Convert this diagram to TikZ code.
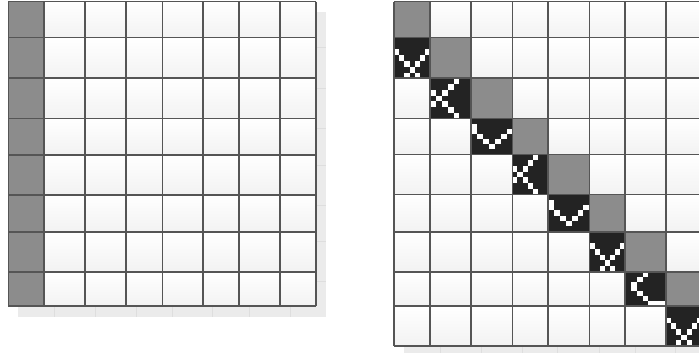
\documentclass[tikz,border=0pt]{standalone}
\definecolor{gridline}{HTML}{555555}
\definecolor{cellgray}{HTML}{8C8C8C}
\definecolor{cellblack}{HTML}{232323}
\definecolor{shadowgray}{HTML}{EBEBEB}
\tikzset{
  gridrule/.style={draw=gridline, line width=1.6pt},
  whitecell/.style={top color=white, bottom color=black!5},
  graycell/.style={fill=cellgray},
  blackcell/.style={fill=cellblack},
  pix/.style={fill=white},
  shadowbox/.style={fill=shadowgray},
  shadowrule/.style={draw=black!13, line width=0.8pt},
}
% white pixel motifs, lattice 7x7 (column/row from top left)
\newcommand{\motifX}{0/2,1/3,2/4,3/5,4/6,6/2,5/3,4/4,2/6}
\newcommand{\motifK}{4/0,3/1,2/2,1/3,0/4,0/2,2/4,3/5,4/6}
\newcommand{\motifV}{0/1,0/2,1/3,2/4,3/5,4/4,5/3,6/2}
\newcommand{\motifL}{3/0,2/1,1/2,1/3,2/4,3/5,4/6,5/6,6/6}
\newcommand{\motifcell}[5]{%
  \fill[blackcell] (#1,#2) rectangle (#3,#4);
  \foreach \i/\j in #5
    \fill[pix] ({#1+(\i+0.02)*(#3-#1)/7},{#2+(\j+0.02)*(#4-#2)/7})
      rectangle +({1.0*(#3-#1)/7},{1.0*(#4-#2)/7});
}
\begin{document}
\begin{tikzpicture}[x=1pt, y=-1pt]
    \useasboundingbox (0,0) rectangle (699,353);
    \clip (0,0) rectangle (699,353);

    % Left matrix: shadow
    \fill[shadowbox] (18.3,11.7) rectangle (325.7,316.5);
    \foreach \x in {54,95,136,172.3,212.7,249,290}
      \draw[shadowrule] (\x,11.7) -- (\x,316.5);
    \foreach \y in {47.7,88.3,128.3,165,205,241.7,281.7}
      \draw[shadowrule] (18.3,\y) -- (325.7,\y);

    % Left matrix: cells, first column gray
    \foreach \xa/\xb in {8.3/44,44/85,85/126,126/162.3,162.3/202.7,202.7/239,239/280,280/315.7}
      \foreach \ya/\yb in {1.7/37.7,37.7/78.3,78.3/118.3,118.3/155,155/195,195/231.7,231.7/271.7,271.7/306}
        \fill[whitecell] (\xa,\ya) rectangle (\xb,\yb);
    \fill[graycell] (8.3,1.7) rectangle (44,306);
    \foreach \x in {8.3,44,85,126,162.3,202.7,239,280,315.7}
      \draw[gridrule] (\x,1.7) -- (\x,306);
    \foreach \y in {1.7,37.7,78.3,118.3,155,195,231.7,271.7,306}
      \draw[gridrule] (8.3,\y) -- (315.7,\y);

    % Right matrix: shadow
    \fill[shadowbox] (404,11.7) rectangle (712,356);
    \foreach \x in {440,481,522.3,557.7,599.3,635,675.7}
      \draw[shadowrule] (\x,11.7) -- (\x,356);

    % Right matrix: cells, gray diagonal
    \foreach \xa/\xb [count=\c] in {394/430,430/471,471/512.3,512.3/547.7,547.7/589.3,589.3/625,625/665.7,665.7/702,702/738}
      \foreach \ya/\yb [count=\r] in {1.7/37.7,37.7/78.3,78.3/118.3,118.3/154.3,154.3/194.3,194.3/231.7,231.7/271.7,271.7/306,306/346}
        {
          \ifnum\c=\r
            \fill[graycell] (\xa,\ya) rectangle (\xb,\yb);
          \else
            \fill[whitecell] (\xa,\ya) rectangle (\xb,\yb);
          \fi
        }

    % Right matrix: black band below the diagonal
    \motifcell{394}{37.7}{430}{78.3}{\motifX}
    \motifcell{430}{78.3}{471}{118.3}{\motifK}
    \motifcell{471}{118.3}{512.3}{154.3}{\motifV}
    \motifcell{512.3}{154.3}{547.7}{194.3}{\motifK}
    \motifcell{547.7}{194.3}{589.3}{231.7}{\motifV}
    \motifcell{589.3}{231.7}{625}{271.7}{\motifX}
    \motifcell{625}{271.7}{665.7}{306}{\motifL}
    \motifcell{665.7}{306}{702}{346}{\motifX}

    \foreach \x in {394,430,471,512.3,547.7,589.3,625,665.7,702}
      \draw[gridrule] (\x,1.7) -- (\x,346);
    \foreach \y in {1.7,37.7,78.3,118.3,154.3,194.3,231.7,271.7,306,346}
      \draw[gridrule] (394,\y) -- (738,\y);
\end{tikzpicture}
\end{document}
